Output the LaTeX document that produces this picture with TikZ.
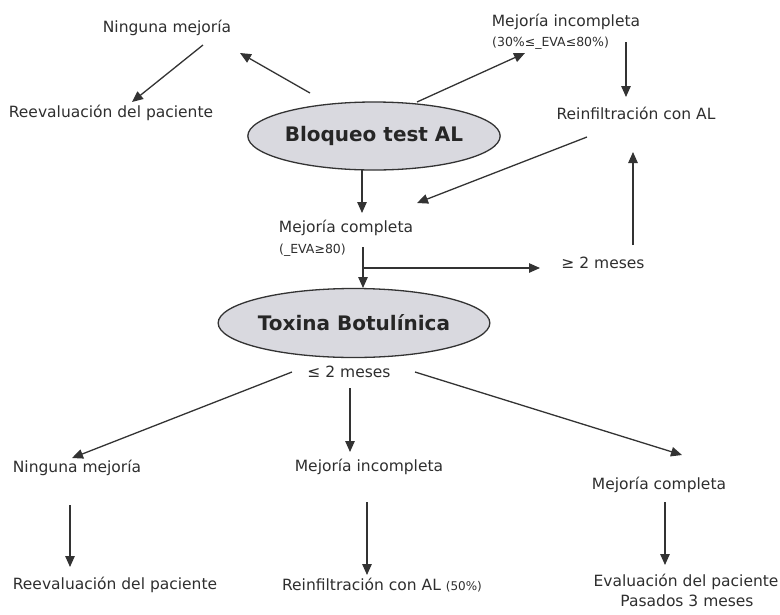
\documentclass[tikz,border=0pt]{standalone}
\usepackage{fontspec}
\setmainfont{DejaVu Sans}
\usetikzlibrary{arrows.meta,shapes.geometric}
\definecolor{ink}{HTML}{333333}
\definecolor{ovalfill}{HTML}{D9D9DF}
\tikzset{
  lbl/.style={inner sep=0pt, text=ink!90!black, font=\fontsize{15.5}{18}\selectfont},
  small/.style={inner sep=0pt, text=ink!90!black, font=\fontsize{12.5}{15}\selectfont},
  oval/.style={ellipse, draw=ink, line width=1.3pt, fill=ovalfill, inner sep=0pt,
    font=\bfseries\fontsize{20}{24}\selectfont, text=black!85},
  arr/.style={draw=ink, line width=1.3pt, -{Triangle[length=11pt,width=9.5pt]}}
}
\begin{document}
\begin{tikzpicture}[x=1pt,y=-1pt]
\useasboundingbox (0,0) rectangle (780,614);
% nodes
\node[lbl] (nm1) at (167,28) {Ninguna mejoría};
\node[lbl] (re1) at (111,113) {Reevaluación del paciente};
\node[lbl] (mi1) at (566,22) {Mejoría incompleta};
\node[small, anchor=west] (eva1) at (492,43) {(30\%≤\_EVA≤80\%)};
\node[lbl] (ri1) at (636,113) {Reinfiltración con AL};
\node[oval, minimum width=245pt, minimum height=68pt] (bloq) at (374,136) {Bloqueo test AL};
\node[lbl] (mc1) at (346,228) {Mejoría completa};
\node[small, anchor=west] (eva2) at (279,250) {(\_EVA≥80)};
\node[lbl] (mes1) at (603,263) {≥ 2 meses};
\node[oval, minimum width=245pt, minimum height=69pt] (tox) at (354,323) {Toxina Botulínica};
\node[lbl] (mes2) at (349,372) {≤ 2 meses};
\node[lbl] (nm2) at (77,468) {Ninguna mejoría};
\node[lbl] (mi2) at (369,467) {Mejoría incompleta};
\node[lbl] (mc2) at (659,485) {Mejoría completa};
\node[lbl] (re2) at (115,585) {Reevaluación del paciente};
\node[lbl] (ri2) at (382,585) {Reinfiltración con AL {\fontsize{12}{14}\selectfont(50\%)}};
\node[lbl] (ev1) at (686,582) {Evaluación del paciente};
\node[lbl] (ev2) at (687,601) {Pasados 3 meses};
% connector end points
\coordinate (a1s) at (310,93);  \coordinate (a1e) at (240,53);
\coordinate (a2s) at (203,45);  \coordinate (a2e) at (132,102);
\coordinate (a3s) at (417,102); \coordinate (a3e) at (525,53);
\coordinate (a4s) at (626,42);  \coordinate (a4e) at (626,97);
\coordinate (a5s) at (587,137); \coordinate (a5e) at (417,203);
\coordinate (a6s) at (362,170); \coordinate (a6e) at (362,213);
\coordinate (a7s) at (363,247); \coordinate (a7e) at (363,288);
\coordinate (a8s) at (363,268); \coordinate (a8e) at (540,268);
\coordinate (a9s) at (633,245); \coordinate (a9e) at (633,152);
\coordinate (b1s) at (292,372); \coordinate (b1e) at (72,458);
\coordinate (b2s) at (350,388); \coordinate (b2e) at (350,452);
\coordinate (b3s) at (415,372); \coordinate (b3e) at (682,455);
\coordinate (c1s) at (70,505);  \coordinate (c1e) at (70,567);
\coordinate (c2s) at (367,502); \coordinate (c2e) at (367,575);
\coordinate (c3s) at (665,502); \coordinate (c3e) at (665,565);
% connectors
\draw[arr] (a1s) -- (a1e);
\draw[arr] (a2s) -- (a2e);
\draw[arr] (a3s) -- (a3e);
\draw[arr] (a4s) -- (a4e);
\draw[arr] (a5s) -- (a5e);
\draw[arr] (a6s) -- (a6e);
\draw[arr] (a7s) -- (a7e);
\draw[arr] (a8s) -- (a8e);
\draw[arr] (a9s) -- (a9e);
\draw[arr] (b1s) -- (b1e);
\draw[arr] (b2s) -- (b2e);
\draw[arr] (b3s) -- (b3e);
\draw[arr] (c1s) -- (c1e);
\draw[arr] (c2s) -- (c2e);
\draw[arr] (c3s) -- (c3e);
\end{tikzpicture}
\end{document}
